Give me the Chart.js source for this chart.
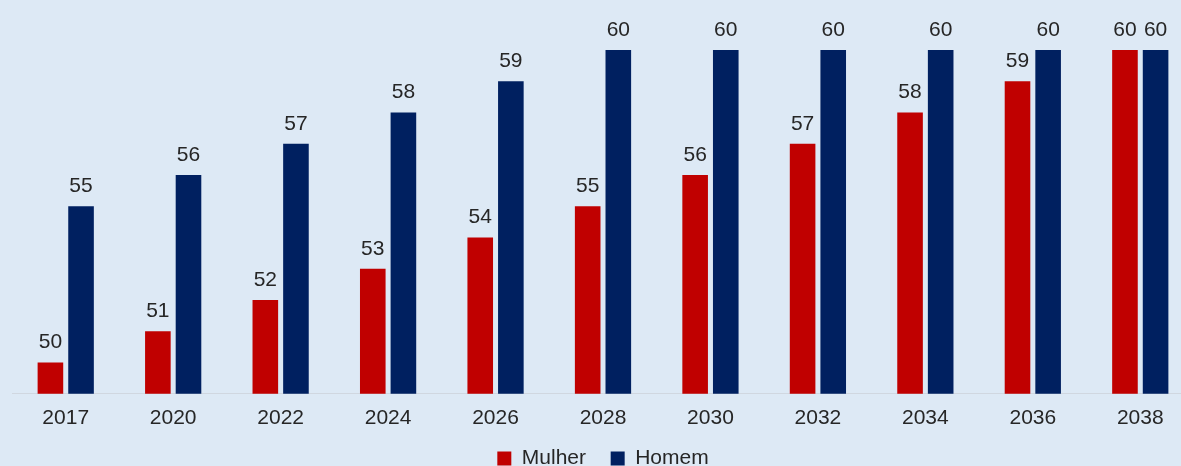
<!DOCTYPE html>
<html>
<head>
<meta charset="utf-8">
<script src="https://cdn.jsdelivr.net/npm/chart.js@4/dist/chart.umd.min.js"></script>
<style>
  html, body { margin: 0; padding: 0; background: #dde9f5; overflow: hidden; }
  #wrap { width: 1194px; height: 479px; }
</style>
</head>
<body>
<div id="wrap"><canvas id="chart"></canvas></div>
<script>
const years = ['2017', '2020', '2022', '2024', '2026', '2028', '2030', '2032', '2034', '2036', '2038']
const mulher = [50, 51, 52, 53, 54, 55, 56, 57, 58, 59, 60]
const homem = [55, 56, 57, 58, 59, 60, 60, 60, 60, 60, 60]

const FONT = '"Liberation Sans", Arial, sans-serif'

// draws the value above each bar
const barLabels = {
  id: 'barLabels',
  afterDatasetsDraw (chart) {
    const ctx = chart.ctx
    ctx.save()
    ctx.font = '21px ' + FONT
    ctx.fillStyle = '#262626'
    ctx.textAlign = 'center'
    ctx.textBaseline = 'middle'
    chart.data.datasets.forEach((ds, i) => {
      chart.getDatasetMeta(i).data.forEach((bar, j) => {
        ctx.fillText(ds.data[j], bar.x, bar.y - 20)
      })
    })
    ctx.restore()
  }
}

new Chart(document.getElementById('chart'), {
  type: 'bar',
  data: {
    labels: years,
    datasets: [
      { label: 'Mulher', data: mulher, backgroundColor: '#c00000' },
      { label: 'Homem', data: homem, backgroundColor: '#002060' }
    ]
  },
  options: {
    responsive: true,
    maintainAspectRatio: false,
    animation: false,
    layout: { padding: { left: 12, right: 0, top: 50, bottom: 0 } },
    datasets: {
      bar: { categoryPercentage: 0.57, barPercentage: 0.836 }
    },
    scales: {
      x: {
        grid: { display: false },
        border: { display: true, color: '#d0d7e0', width: 1 },
        ticks: {
          color: '#262626',
          padding: 4,
          font: { size: 21, family: FONT }
        }
      },
      y: {
        display: false,
        min: 49,
        max: 60
      }
    },
    plugins: {
      legend: {
        position: 'bottom',
        labels: {
          boxWidth: 14,
          boxHeight: 14,
          padding: 13,
          color: '#262626',
          font: { size: 21, family: FONT },
          // a little more room between the two entries
          generateLabels (chart) {
            const items = Chart.defaults.plugins.legend.labels.generateLabels(chart)
            items[0].text += '  '
            return items
          }
        }
      },
      tooltip: { enabled: false }
    }
  },
  plugins: [barLabels]
})
</script>
</body>
</html>
